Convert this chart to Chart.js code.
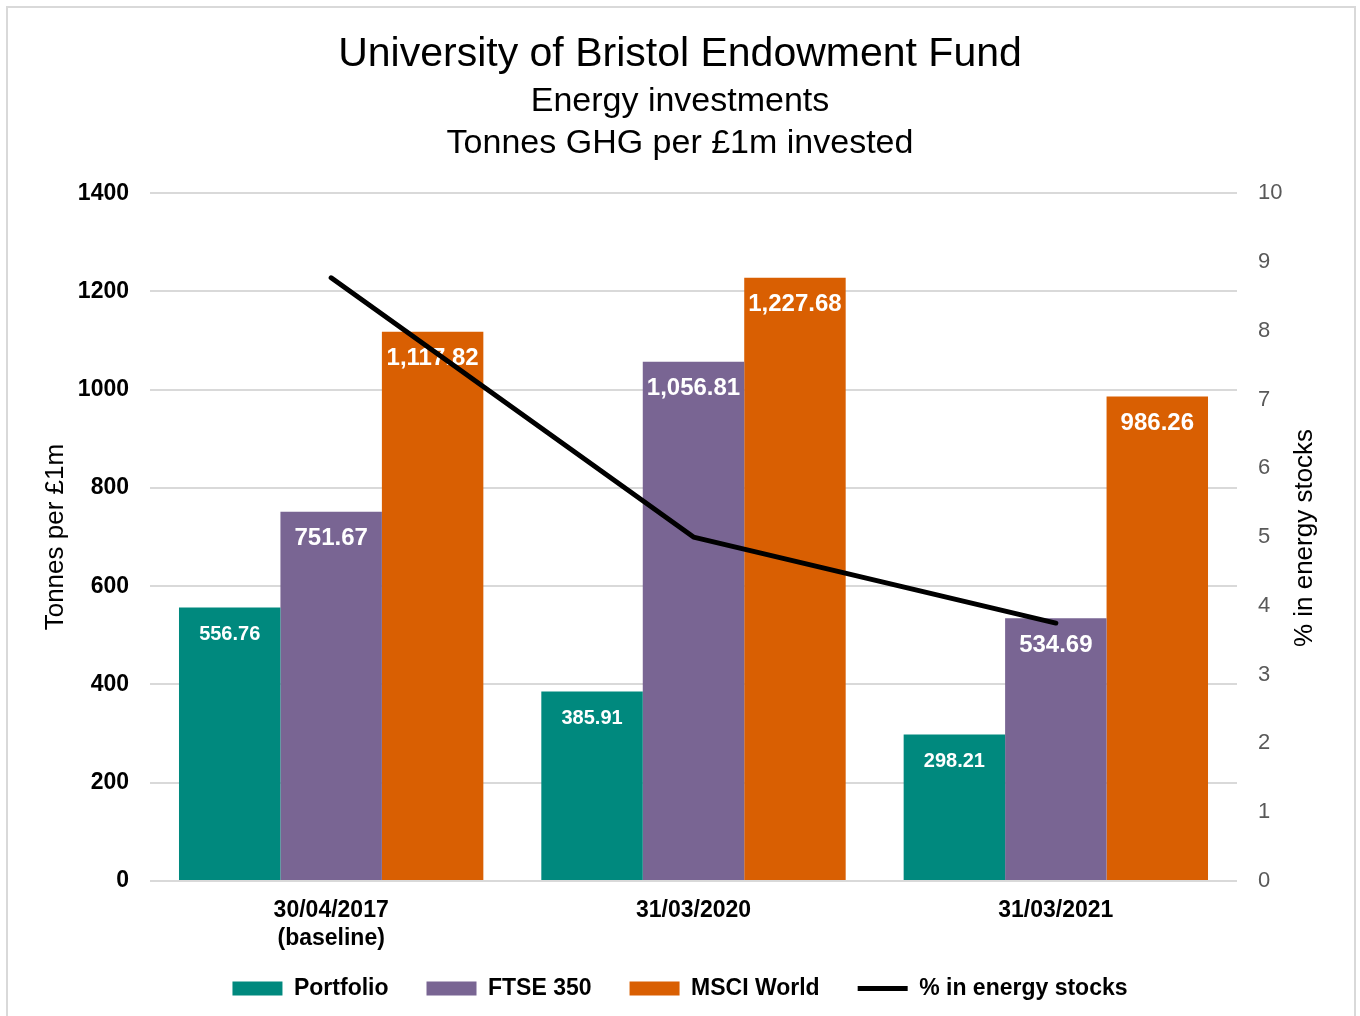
<!DOCTYPE html>
<html>
<head>
<meta charset="utf-8">
<script src="https://cdn.jsdelivr.net/npm/chart.js@4.4.1/dist/chart.umd.min.js"></script>
<style>
  body{margin:0;background:#fff;}
  #frame{position:absolute;left:6px;top:6px;width:1346px;height:1020px;border:2px solid #d9d9d9;}
  #c{position:absolute;left:0;top:0;}
</style>
</head>
<body>
<div id="frame"></div>
<canvas id="c" width="1360" height="1016"></canvas>
<script>
var categories = [['30/04/2017', '(baseline)'], '31/03/2020', '31/03/2021'];
var portfolio = [556.76, 385.91, 298.21];
var ftse350 = [751.67, 1056.81, 534.69];
var msciWorld = [1117.82, 1227.68, 986.26];
var energyPct = [8.77, 5.0, 3.75];
var labelSizes = [20, 24, 24]; //value label size per bar series

var FONT = '"Liberation Sans", Arial, sans-serif';

//bar value labels, drawn before the line so the line sits on top
var barLabels = {
  id: 'barLabels',
  afterDatasetDraw: function(chart, args){
    var meta = args.meta;
    if(meta.type !== 'bar') return;
    var ctx = chart.ctx, data = chart.data.datasets[args.index].data;
    ctx.save();
    ctx.font = 'bold ' + labelSizes[args.index] + 'px ' + FONT;
    ctx.fillStyle = '#fff';
    ctx.textAlign = 'center';
    ctx.textBaseline = 'middle';
    meta.data.forEach(function(el, i){
      var txt = data[i].toLocaleString('en-US', {minimumFractionDigits: 2, maximumFractionDigits: 2});
      ctx.fillText(txt, el.x, el.y + 27);
    });
    ctx.restore();
  }
};

//right axis title reads bottom-to-top like the left one
var rightTitle = {
  id: 'rightTitle',
  afterDraw: function(chart){
    var ctx = chart.ctx;
    ctx.save();
    ctx.translate(1305, 538);
    ctx.rotate(-Math.PI/2);
    ctx.font = '26px ' + FONT;
    ctx.fillStyle = '#000';
    ctx.textAlign = 'center';
    ctx.textBaseline = 'middle';
    ctx.fillText('% in energy stocks', 0, 0);
    ctx.restore();
  }
};

new Chart(document.getElementById('c'), {
  type: 'bar',
  data: {
    labels: categories,
    datasets: [
      { label: 'Portfolio', data: portfolio, backgroundColor: '#00897e', borderWidth: 0, yAxisID: 'y', order: 1, pointStyle: 'rect' },
      { label: 'FTSE 350', data: ftse350, backgroundColor: '#796593', borderWidth: 0, yAxisID: 'y', order: 1, pointStyle: 'rect' },
      { label: 'MSCI World', data: msciWorld, backgroundColor: '#d95f02', borderWidth: 0, yAxisID: 'y', order: 1, pointStyle: 'rect' },
      { type: 'line', label: '% in energy stocks', data: energyPct, borderColor: '#000', backgroundColor: '#000',
        borderWidth: 5, borderCapStyle: 'round', borderJoinStyle: 'round', pointRadius: 0, tension: 0,
        yAxisID: 'yR', order: 0, pointStyle: 'line' }
    ]
  },
  options: {
    responsive: false,
    animation: false,
    devicePixelRatio: 1,
    layout: { padding: { left: 0, right: 0, top: 0, bottom: 6 } },
    datasets: { bar: { categoryPercentage: 0.84, barPercentage: 1 } },
    plugins: {
      title: {
        display: true, text: 'University of Bristol Endowment Fund', color: '#000',
        font: { family: FONT, size: 41, weight: 'normal', lineHeight: 1.2 },
        padding: { top: 30, bottom: 0 }
      },
      subtitle: {
        display: true, text: ['Energy investments', 'Tonnes GHG per £1m invested'], color: '#000',
        font: { family: FONT, size: 34, weight: 'normal', lineHeight: 1.235 },
        padding: { top: 1, bottom: 29 }
      },
      legend: {
        position: 'bottom',
        labels: {
          usePointStyle: true, pointStyleWidth: 50, boxHeight: 14, padding: 38, color: '#000',
          font: { family: FONT, size: 23, weight: 'bold' },
          sort: function(a, b){ return a.datasetIndex - b.datasetIndex; }
        }
      },
      tooltip: { enabled: false }
    },
    scales: {
      x: {
        grid: { display: false }, border: { display: false },
        ticks: { color: '#000', padding: 8, font: { family: FONT, size: 23, weight: 'bold', lineHeight: 1.2 } },
        afterFit: function(s){
          s.height = 58;
          s._computeLabelArea = function(){}; //let the two-line label overflow into the legend band
        }
      },
      y: {
        position: 'left', min: 0, max: 1400,
        ticks: { stepSize: 200, color: '#000', padding: 21, font: { family: FONT, size: 23, weight: 'bold' },
          callback: function(v){ return String(v); } },
        grid: { color: '#d9d9d9', lineWidth: 2, drawTicks: false }, border: { display: false },
        title: { display: true, text: 'Tonnes per £1m', color: '#000', font: { family: FONT, size: 26 }, padding: { top: 40, bottom: 0 } },
        afterFit: function(s){ s.width = 150; }
      },
      yR: {
        position: 'right', min: 0, max: 10,
        ticks: { stepSize: 1, color: '#595959', padding: 21, font: { family: FONT, size: 22 } },
        grid: { display: false, drawTicks: false }, border: { display: false },
        afterFit: function(s){ s.width = 123; }
      }
    }
  },
  plugins: [barLabels, rightTitle]
});
</script>
</body>
</html>
